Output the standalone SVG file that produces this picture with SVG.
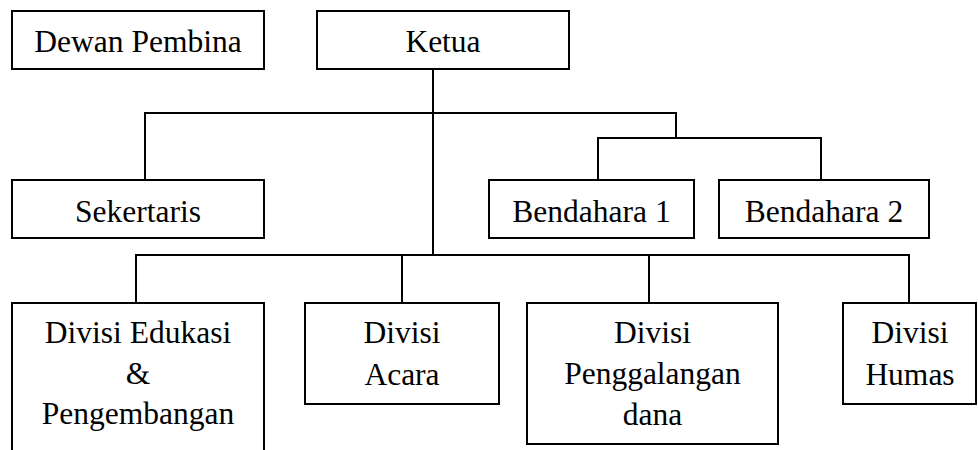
<svg xmlns="http://www.w3.org/2000/svg" width="978" height="450" viewBox="0 0 978 450">
<style>
.box{fill:#fff;stroke:#000;stroke-width:2}
.lbl{font-family:"Liberation Serif","Times New Roman",serif;font-size:31.5px;fill:#000;text-anchor:middle}
.ln{fill:none;stroke:#000;stroke-width:2}
</style>
<rect width="978" height="450" fill="#fff"/>
<g id="connectors">
<path class="ln" d="M433 69 V255"/>
<path class="ln" d="M145 180 V113 H676 V138"/>
<path class="ln" d="M598 180 V138 H821 V180"/>
<path class="ln" d="M136 303 V255 H909 V303"/>
<path class="ln" d="M402 255 V303"/>
<path class="ln" d="M649 255 V303"/>
</g>
<g id="dewan-pembina"><rect class="box" x="12" y="11" width="252" height="58"/><text class="lbl" x="138" y="52">Dewan Pembina</text></g>
<g id="ketua"><rect class="box" x="317" y="11" width="252" height="58"/><text class="lbl" x="443" y="52">Ketua</text></g>
<g id="sekertaris"><rect class="box" x="12" y="180" width="252" height="58"/><text class="lbl" x="138" y="222">Sekertaris</text></g>
<g id="bendahara-1"><rect class="box" x="489" y="180" width="205" height="58"/><text class="lbl" x="591.5" y="222">Bendahara 1</text></g>
<g id="bendahara-2"><rect class="box" x="719" y="180" width="210" height="58"/><text class="lbl" x="824" y="222">Bendahara 2</text></g>
<g id="divisi-edukasi"><rect class="box" x="12" y="303" width="252" height="160"/><text class="lbl" x="138"><tspan x="138" y="343">Divisi Edukasi</tspan><tspan x="138" y="384">&amp;</tspan><tspan x="138" y="424">Pengembangan</tspan></text></g>
<g id="divisi-acara"><rect class="box" x="305" y="303" width="194" height="101"/><text class="lbl"><tspan x="402" y="343">Divisi</tspan><tspan x="402" y="385">Acara</tspan></text></g>
<g id="divisi-penggalangan"><rect class="box" x="527" y="303" width="251" height="141"/><text class="lbl"><tspan x="652.5" y="343">Divisi</tspan><tspan x="652.5" y="384">Penggalangan</tspan><tspan x="652.5" y="425">dana</tspan></text></g>
<g id="divisi-humas"><rect class="box" x="843" y="303" width="133" height="101"/><text class="lbl"><tspan x="910" y="343">Divisi</tspan><tspan x="910" y="385">Humas</tspan></text></g>
</svg>
